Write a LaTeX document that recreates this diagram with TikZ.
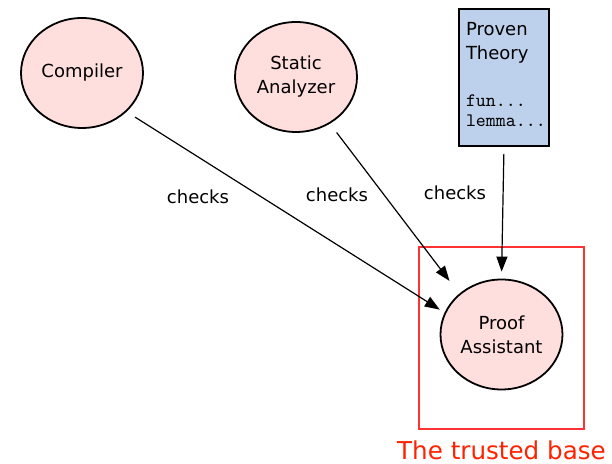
\documentclass[tikz,border=0pt]{standalone}
\usepackage{fontspec}
\setmainfont{DejaVu Sans}
\usepackage{tikz}
\usetikzlibrary{arrows.meta, positioning, shapes.geometric}
\definecolor{toolpink}{RGB}{255,222,222}
\definecolor{thyblue}{RGB}{189,208,236}
\definecolor{trustred}{RGB}{255,51,51}
\definecolor{trusttext}{RGB}{255,34,0}
\tikzset{every tool node/.style={ellipse,draw,fill=toolpink,minimum width=61pt,minimum height=55pt,inner sep=0pt,line width=0.9pt,align=center,font=\fontsize{9}{12}\selectfont}}
\tikzset{every thy node/.style={rectangle,draw,fill=thyblue,line width=0.9pt,align=left,text width=38pt,inner xsep=3.5pt,inner ysep=3pt,text height=10.5pt,text depth=52pt,font=\fontsize{9}{12}\selectfont}}
\tikzset{every trust node/.style={rectangle,draw=trustred,line width=1pt,minimum width=82.5pt,minimum height=91pt,inner sep=0pt}}
\tikzset{check labels/.style={font=\fontsize{9}{11}\selectfont}}
\tikzset{trust label/.style={text=trusttext,inner sep=0pt,font=\fontsize{12.3}{14}\selectfont}}

\begin{document}
\begin{tikzpicture}[x=0.5pt,y=-0.5pt,>={Triangle[length=7.5pt,width=5.5pt]},line width=0.6pt]
  \useasboundingbox (0,0) rectangle (612,464);

  \node[every tool node](Comp) at (82,73){Compiler};
  \node[every tool node](Stat) at (296,77){Static\\Analyzer};
  \node[every thy node](Thy) at (504,77.5){Proven\\Theory\\[11.5pt]{\fontsize{9.5}{12}\selectfont\ttfamily fun...}\\[-2pt]{\fontsize{9.5}{12}\selectfont\ttfamily lemma...}};
  \node[every tool node](Proof) at (501.5,334.5){Proof\\Assistant};

  % trusted base frame round the proof assistant
  \node[every trust node](Base) at (501.5,338){};
  \node[trust label, below=5pt of Base](BaseText){The trusted base};

  \path[->] (Comp.-41) edge[shorten <=5pt, shorten >=2.8pt] (Proof.159);
  \path[->] (Stat.-54) edge[shorten <=5.5pt, shorten >=8pt] (Proof.136);
  \path[->] (Thy.south) edge[shorten <=3.5pt, shorten >=3.5pt] (Proof.north);

  \node[check labels](Chk1) at (198,197){checks};
  \node[check labels](Chk2) at (337,195){checks};
  \node[check labels](Chk3) at (455,193){checks};
\end{tikzpicture}
\end{document}
